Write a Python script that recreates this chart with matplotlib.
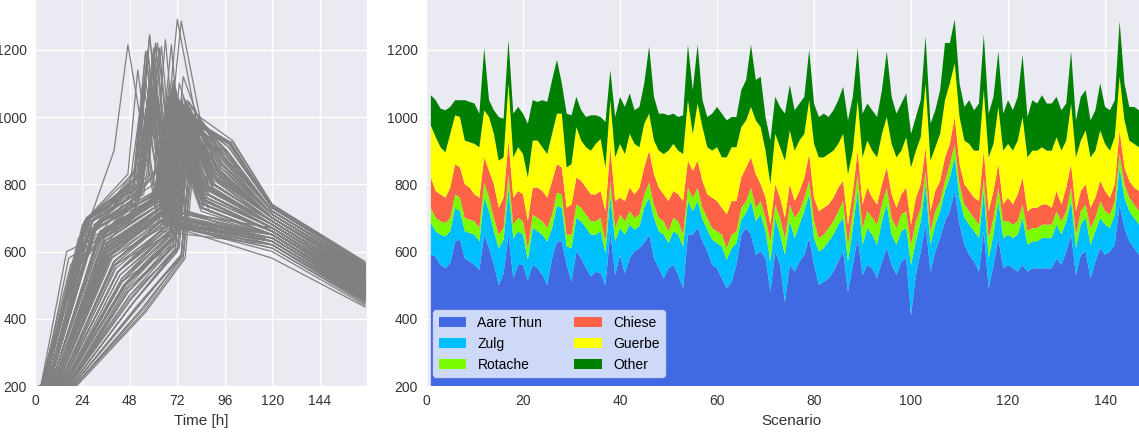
import matplotlib.pyplot as plt
import numpy as np

# --- stacked inflow per scenario (right panel) ---
scenario = np.arange(1, 151)

aare_thun = [590, 585, 560, 550, 565, 630, 635, 580, 570, 560,
             545, 650, 610, 560, 500, 535, 650, 520, 560, 560,
             515, 560, 550, 530, 500, 580, 630, 630, 560, 510,
             600, 580, 550, 525, 540, 535, 500, 660, 530, 590,
             535, 580, 600, 610, 625, 650, 580, 550, 520, 550,
             560, 530, 490, 650, 650, 670, 630, 600, 560, 550,
             520, 490, 510, 560, 650, 670, 650, 590, 600, 580,
             480, 600, 560, 450, 560, 540, 570, 590, 640, 560,
             500, 510, 520, 540, 570, 600, 480, 560, 640, 530,
             560, 550, 520, 570, 610, 560, 530, 570, 580, 410,
             530, 600, 680, 540, 600, 640, 690, 720, 780, 680,
             620, 590, 570, 540, 660, 490, 560, 640, 550, 560,
             550, 540, 560, 540, 550, 550, 550, 550, 550, 580,
             560, 600, 650, 530, 590, 600, 520, 570, 610, 590,
             600, 620, 740, 670, 630, 610, 590, 590, 600, 600]
zulg = [95, 75, 90, 95, 95, 100, 85, 80, 85, 90,
        85, 110, 110, 100, 110, 100, 135, 120, 100, 90,
        60, 110, 110, 120, 130, 90, 105, 100, 55, 100,
        100, 110, 120, 125, 110, 125, 95, 105, 100, 80,
        115, 100, 65, 65, 105, 110, 120, 110, 130, 75,
        100, 120, 125, 100, 70, 80, 65, 65, 75, 75,
        95, 85, 100, 65, 45, 45, 100, 100, 110, 80,
        90, 100, 90, 140, 130, 100, 110, 130, 130, 80,
        100, 100, 110, 110, 110, 100, 90, 110, 140, 90,
        110, 100, 100, 120, 130, 90, 90, 90, 90, 150,
        100, 90, 120, 80, 80, 80, 90, 100, 100, 80,
        80, 90, 90, 100, 120, 90, 90, 110, 90, 90,
        90, 110, 140, 80, 80, 80, 90, 90, 90, 100,
        90, 90, 100, 80, 90, 100, 100, 90, 90, 90,
        70, 90, 110, 90, 90, 90, 90, 80, 80, 90]
rotache = [45, 40, 40, 40, 40, 40, 40, 40, 40, 40,
           40, 45, 40, 40, 40, 35, 45, 40, 40, 40,
           35, 40, 40, 40, 40, 40, 40, 40, 35, 40,
           40, 40, 40, 40, 40, 40, 35, 45, 40, 40,
           40, 40, 35, 35, 40, 45, 40, 40, 40, 35,
           40, 40, 35, 40, 40, 40, 35, 35, 35, 35,
           35, 35, 40, 35, 35, 35, 40, 40, 40, 40,
           60, 40, 50, 50, 50, 60, 40, 40, 40, 50,
           40, 40, 40, 40, 40, 50, 50, 50, 50, 50,
           50, 50, 60, 50, 50, 50, 50, 50, 50, 60,
           60, 40, 40, 40, 40, 30, 30, 40, 40, 40,
           40, 40, 40, 40, 40, 60, 50, 40, 50, 40,
           40, 40, 40, 40, 40, 40, 40, 40, 40, 40,
           40, 30, 40, 40, 40, 40, 50, 40, 50, 40,
           40, 40, 40, 40, 40, 40, 40, 50, 40, 40]
chiese = [90, 80, 80, 75, 90, 90, 90, 100, 95, 80,
          90, 75, 80, 100, 80, 90, 100, 80, 80, 80,
          80, 80, 90, 90, 90, 100, 85, 80, 80, 90,
          80, 80, 80, 80, 80, 80, 90, 100, 80, 50,
          60, 70, 70, 80, 80, 95, 90, 90, 80, 90,
          80, 80, 100, 80, 80, 80, 80, 70, 90, 90,
          80, 100, 100, 90, 90, 100, 90, 100, 50, 60,
          50, 60, 60, 60, 60, 50, 60, 60, 80, 70,
          80, 80, 70, 70, 70, 60, 60, 60, 70, 70,
          70, 60, 60, 60, 60, 70, 60, 60, 70, 60,
          70, 70, 70, 60, 60, 60, 70, 60, 80, 60,
          60, 60, 60, 70, 80, 80, 80, 70, 50, 70,
          60, 80, 80, 60, 60, 60, 60, 60, 50, 60,
          50, 70, 70, 70, 60, 60, 60, 60, 60, 60,
          50, 50, 70, 50, 50, 50, 60, 50, 60, 60]
guerbe = [155, 160, 140, 135, 160, 145, 150, 130, 135, 150,
          150, 140, 160, 150, 140, 120, 170, 120, 130, 120,
          130, 140, 140, 130, 130, 140, 150, 160, 120, 120,
          150, 120, 120, 130, 150, 155, 130, 140, 130, 160,
          140, 160, 150, 120, 130, 110, 100, 110, 120, 150,
          140, 130, 140, 180, 110, 170, 160, 140, 140, 160,
          150, 170, 160, 160, 150, 140, 150, 160, 170, 140,
          120, 150, 150, 170, 160, 150, 150, 130, 160, 160,
          160, 150, 150, 140, 130, 140, 150, 120, 150, 140,
          140, 140, 140, 150, 150, 150, 150, 130, 150, 170,
          140, 140, 190, 150, 130, 140, 170, 180, 160, 140,
          130, 140, 140, 150, 180, 160, 140, 170, 160, 160,
          160, 160, 180, 160, 170, 170, 170, 160, 170, 160,
          160, 140, 180, 160, 150, 160, 150, 140, 150, 140,
          140, 140, 160, 140, 120, 130, 130, 140, 130, 130]
other = [90, 110, 115, 125, 80, 45, 50, 120, 120, 120,
         100, 185, 50, 70, 130, 115, 130, 130, 120, 120,
         160, 120, 115, 140, 155, 160, 160, 90, 160, 145,
         90, 90, 90, 105, 85, 65, 135, 90, 120, 140,
         140, 120, 100, 120, 120, 200, 130, 110, 120, 105,
         90, 100, 115, 165, 130, 175, 80, 90, 110, 120,
         130, 110, 90, 90, 110, 120, 185, 120, 150, 100,
         130, 110, 120, 140, 135, 120, 110, 110, 150, 120,
         120, 130, 110, 120, 130, 140, 160, 160, 155, 130,
         110, 120, 120, 130, 195, 140, 130, 140, 130, 100,
         100, 110, 140, 110, 110, 130, 170, 120, 130, 100,
         100, 130, 120, 140, 165, 130, 140, 165, 110, 130,
         120, 130, 185, 120, 150, 140, 155, 140, 140, 120,
         120, 110, 155, 110, 130, 120, 110, 120, 140, 110,
         120, 110, 165, 110, 100, 110, 110, 110, 110, 110]

labels = ['Aare Thun', 'Zulg', 'Rotache', 'Chiese', 'Guerbe', 'Other']
colors = ['royalblue', 'deepskyblue', 'lawngreen', 'tomato', 'yellow', 'green']

# --- hydrograph vertices per scenario (left panel) ---
t_start = [6, 9, 4, 12, 7, 5, 10, 14, 8, 3, 11, 6, 15, 9, 18, 7, 4, 13, 10, 16,
           20, 8, 5, 12, 17, 9, 6, 11, 19, 14, 7, 10, 13, 4, 16, 8, 21, 5, 12, 9,
           15, 6, 11, 8, 3, 5, 14, 10, 18, 12, 7, 13, 19, 4, 9, 6, 11, 15, 8, 17,
           10, 20, 12, 14, 6, 5, 3, 9, 13, 16, 18, 7, 11, 15, 8, 12, 10, 6, 4, 13,
           17, 9, 14, 11, 7, 5, 19, 10, 3, 12, 8, 15, 16, 6, 4, 10, 13, 9, 7, 20,
           14, 8, 4, 16, 11, 7, 5, 6, 3, 9, 12, 10, 15, 13, 5, 18, 8, 4, 14, 11,
           16, 9, 6, 17, 12, 10, 8, 13, 15, 7, 11, 9, 5, 19, 8, 6, 14, 12, 7, 10,
           13, 9, 3, 6, 11, 15, 10, 8, 12, 14]
t_shoulder = [28, 34, 17, 40, 30, 24, 36, 46, 32, 16, 38, 29, 44, 35, 50, 31, 22, 42, 37, 48,
              54, 33, 26, 40, 47, 36, 28, 39, 52, 43, 30, 37, 41, 20, 46, 33, 56, 25, 40, 35,
              45, 29, 38, 33, 18, 27, 44, 36, 50, 40, 31, 42, 52, 22, 35, 28, 39, 45, 33, 48,
              37, 55, 41, 44, 30, 26, 19, 35, 42, 47, 50, 31, 38, 46, 34, 40, 37, 29, 24, 42,
              48, 35, 44, 38, 31, 27, 53, 36, 21, 40, 33, 45, 47, 29, 23, 36, 42, 35, 31, 55,
              44, 34, 25, 47, 38, 31, 27, 29, 20, 35, 40, 36, 45, 42, 26, 50, 33, 24, 44, 38,
              47, 35, 29, 49, 40, 36, 33, 42, 45, 31, 38, 35, 26, 52, 33, 29, 44, 40, 31, 37,
              42, 35, 22, 29, 38, 45, 37, 33, 40, 43]
v_shoulder = [640, 620, 580, 560, 660, 680, 600, 500, 650, 600, 580, 690, 510, 610, 450, 670, 640, 540, 590, 470,
              430, 650, 690, 570, 480, 620, 700, 590, 440, 530, 680, 600, 560, 590, 490, 660, 420, 690, 570, 630,
              500, 690, 600, 650, 560, 700, 510, 610, 450, 560, 670, 540, 440, 600, 620, 690, 580, 500, 650, 460,
              600, 430, 550, 520, 680, 700, 550, 630, 540, 480, 450, 680, 590, 500, 640, 570, 610, 690, 620, 540,
              470, 630, 510, 590, 680, 700, 440, 620, 560, 570, 660, 500, 480, 690, 610, 600, 540, 630, 670, 420,
              520, 650, 690, 490, 590, 680, 700, 690, 540, 640, 570, 620, 500, 540, 690, 450, 660, 620, 520, 590,
              480, 630, 690, 460, 570, 610, 660, 540, 500, 680, 590, 640, 700, 440, 650, 690, 510, 570, 680, 600,
              540, 640, 560, 690, 590, 500, 610, 660, 570, 530]
t_rise = [64, 66, 50, 68, 62, 52, 66, 71, 63, 48, 67, 57, 70, 64, 72, 60, 60, 68, 66, 73,
          74, 63, 52, 67, 71, 52, 57, 66, 75, 69, 54, 64, 68, 50, 70, 61, 76, 47, 66, 63,
          69, 53, 65, 62, 48, 58, 68, 64, 72, 66, 61, 67, 74, 40, 63, 63, 65, 70, 62, 72,
          64, 75, 67, 69, 54, 50, 53, 63, 68, 71, 72, 55, 65, 70, 63, 66, 64, 54, 50, 67,
          71, 63, 68, 65, 61, 52, 74, 64, 52, 66, 62, 69, 70, 53, 50, 64, 67, 63, 61, 75,
          68, 63, 52, 71, 65, 62, 54, 55, 65, 63, 66, 64, 69, 67, 51, 72, 63, 50, 68, 65,
          70, 63, 53, 71, 66, 64, 62, 67, 69, 61, 65, 63, 50, 74, 62, 54, 68, 66, 61, 64,
          67, 63, 67, 54, 65, 69, 64, 63, 66, 68]
v_rise = [760, 720, 700, 650, 780, 820, 700, 640, 750, 690, 680, 860, 620, 730, 600, 770, 800, 660, 720, 610,
          580, 750, 790, 690, 620, 740, 810, 700, 590, 660, 790, 710, 680, 840, 640, 760, 580, 830, 700, 740,
          640, 780, 720, 770, 800, 880, 650, 730, 600, 690, 760, 680, 590, 900, 730, 850, 700, 640, 760, 610,
          720, 590, 680, 650, 770, 800, 760, 740, 670, 620, 610, 770, 710, 640, 750, 700, 720, 780, 800, 680,
          620, 740, 650, 710, 780, 820, 590, 730, 800, 700, 760, 640, 620, 790, 830, 720, 680, 740, 770, 580,
          660, 750, 820, 620, 710, 770, 800, 840, 860, 760, 700, 730, 640, 670, 800, 610, 760, 810, 660, 720,
          630, 740, 780, 610, 700, 730, 760, 680, 640, 780, 710, 740, 810, 590, 760, 780, 650, 700, 770, 730,
          680, 740, 880, 780, 720, 650, 730, 750, 690, 660]
t_peak = [70, 72, 56, 75, 68, 58, 73, 77, 69, 54, 74, 63, 76, 71, 78, 67, 66, 75, 72, 79,
          80, 70, 59, 74, 78, 58, 62, 73, 81, 76, 60, 71, 74, 57, 77, 68, 82, 52, 73, 70,
          76, 60, 72, 69, 55, 64, 75, 71, 79, 73, 68, 74, 80, 47, 70, 69, 72, 77, 69, 79,
          71, 81, 74, 76, 61, 56, 61, 70, 75, 78, 79, 62, 72, 77, 70, 73, 71, 60, 57, 74,
          78, 70, 75, 72, 68, 58, 80, 71, 60, 73, 69, 76, 77, 60, 56, 71, 74, 70, 68, 81,
          75, 70, 58, 78, 72, 69, 61, 62, 72, 70, 73, 71, 76, 74, 58, 79, 70, 57, 75, 72,
          77, 70, 60, 78, 73, 71, 69, 74, 76, 68, 72, 70, 56, 80, 69, 61, 75, 73, 68, 71,
          74, 70, 74, 60, 72, 76, 71, 70, 73, 75]
t_fall = [84, 88, 66, 92, 86, 68, 90, 96, 85, 64, 91, 71, 94, 87, 98, 84, 74, 93, 89, 97,
          99, 86, 68, 92, 95, 67, 70, 90, 100, 94, 69, 88, 91, 66, 96, 84, 99, 62, 90, 86,
          94, 69, 89, 85, 65, 72, 93, 87, 97, 90, 84, 91, 98, 62, 86, 76, 88, 95, 85, 96,
          87, 99, 92, 94, 70, 66, 69, 86, 93, 96, 97, 71, 88, 95, 86, 90, 87, 70, 67, 92,
          96, 86, 93, 88, 84, 68, 99, 87, 66, 90, 85, 94, 95, 69, 66, 87, 91, 86, 84, 100,
          92, 86, 68, 96, 88, 85, 70, 71, 88, 86, 90, 87, 94, 91, 67, 97, 86, 66, 93, 88,
          95, 86, 69, 96, 90, 87, 85, 91, 94, 84, 88, 86, 65, 98, 85, 70, 93, 90, 84, 87,
          91, 86, 90, 69, 88, 94, 87, 86, 90, 92]
v_fall = [760, 720, 690, 830, 740, 700, 780, 880, 730, 660, 800, 700, 860, 760, 910, 720, 700, 820, 780, 900,
          920, 740, 680, 810, 880, 720, 690, 790, 930, 840, 700, 770, 820, 680, 870, 730, 925, 690, 790, 750,
          850, 710, 780, 740, 680, 700, 830, 770, 890, 800, 730, 810, 910, 690, 760, 720, 780, 860, 740, 900,
          770, 920, 810, 840, 720, 690, 680, 750, 830, 880, 900, 730, 790, 860, 750, 800, 770, 700, 690, 820,
          890, 750, 840, 780, 730, 680, 915, 770, 680, 800, 740, 850, 870, 720, 690, 770, 820, 750, 730, 925,
          830, 750, 700, 880, 790, 740, 690, 720, 790, 750, 800, 770, 850, 820, 690, 900, 750, 680, 840, 780,
          870, 750, 700, 890, 800, 770, 740, 820, 860, 730, 790, 750, 680, 920, 740, 700, 840, 800, 730, 770,
          820, 750, 800, 710, 790, 850, 770, 750, 800, 840]
tail_hours = [120, 167]
v_120 = [660, 650, 630, 700, 660, 640, 680, 720, 650, 620, 690, 640, 710, 670, 730, 650, 630, 700, 680, 720,
         735, 660, 640, 690, 720, 670, 630, 680, 740, 700, 640, 670, 700, 620, 710, 650, 730, 630, 680, 660,
         710, 640, 680, 660, 610, 620, 700, 670, 720, 690, 650, 690, 730, 600, 670, 630, 680, 710, 660, 720,
         670, 735, 690, 700, 650, 640, 610, 660, 700, 720, 720, 650, 680, 710, 660, 690, 670, 650, 630, 700,
         720, 660, 700, 680, 650, 630, 730, 670, 580, 690, 660, 700, 710, 650, 620, 680, 700, 660, 650, 740,
         700, 660, 640, 720, 680, 660, 650, 670, 690, 660, 690, 670, 710, 700, 640, 720, 660, 620, 700, 680,
         710, 660, 650, 720, 690, 670, 660, 700, 710, 650, 680, 660, 620, 730, 660, 650, 700, 690, 650, 670,
         700, 660, 690, 650, 680, 710, 670, 660, 690, 700]
v_167 = [500, 480, 460, 530, 495, 470, 510, 550, 485, 450, 520, 475, 545, 500, 560, 480, 465, 535, 505, 555,
         565, 490, 470, 525, 550, 495, 460, 515, 570, 540, 470, 500, 530, 455, 545, 480, 560, 465, 510, 490,
         540, 475, 505, 485, 445, 460, 530, 500, 555, 515, 480, 520, 560, 440, 500, 465, 510, 545, 485, 555,
         505, 565, 520, 535, 475, 470, 450, 490, 530, 550, 555, 480, 510, 540, 490, 515, 500, 475, 460, 525,
         550, 490, 535, 505, 480, 465, 560, 500, 435, 520, 485, 540, 545, 475, 455, 505, 530, 490, 480, 565,
         535, 495, 470, 550, 510, 490, 475, 500, 520, 495, 515, 500, 545, 530, 465, 555, 490, 455, 535, 510,
         545, 495, 480, 555, 515, 500, 490, 530, 545, 475, 505, 495, 460, 560, 490, 475, 535, 515, 480, 500,
         525, 495, 520, 480, 510, 540, 500, 490, 515, 530]

plt.rcParams['font.family'] = ['Liberation Sans', 'DejaVu Sans']
plt.rcParams['axes.facecolor'] = '#EAEAF2'
plt.rcParams['axes.edgecolor'] = 'white'
plt.rcParams['grid.color'] = 'white'
plt.rcParams['grid.linewidth'] = 1.0
plt.rcParams['xtick.color'] = '#333333'
plt.rcParams['ytick.color'] = '#333333'
plt.rcParams['axes.labelcolor'] = '#333333'

fig = plt.figure(figsize=(11.39, 4.34), dpi=100)
ax1 = fig.add_axes([35 / 1139, 48 / 434, 332 / 1139, 386 / 434])
ax2 = fig.add_axes([426 / 1139, 48 / 434, 730 / 1139, 386 / 434])

layers = [aare_thun, zulg, rotache, chiese, guerbe, other]
total = np.sum(np.array(layers), axis=0)

for i in range(len(scenario)):
    tt = [2, t_start[i], t_shoulder[i], t_rise[i], t_peak[i], t_fall[i]] + tail_hours
    vv = [200, 200, v_shoulder[i], v_rise[i], total[i], v_fall[i], v_120[i], v_167[i]]
    ax1.plot(tt, vv, c='gray', lw=0.9)

ax1.set_xlim(0, 168)
ax1.set_ylim(200, 1348)
ax1.set_xticks([0, 24, 48, 72, 96, 120, 144])
ax1.set_yticks([200, 400, 600, 800, 1000, 1200])
ax1.set_xlabel('Time [h]', fontsize=11)

ax2.stackplot(scenario, *layers, labels=labels, colors=colors, linewidth=0)
ax2.set_xlim(0, 150.5)
ax2.set_ylim(200, 1348)
ax2.set_xticks([0, 20, 40, 60, 80, 100, 120, 140])
ax2.set_yticks([200, 400, 600, 800, 1000, 1200])
ax2.set_xlabel('Scenario', fontsize=11)
leg = ax2.legend(loc='lower left', ncol=2, fontsize=10, frameon=True,
                 bbox_to_anchor=(0.0, 0.005), borderaxespad=0.5, columnspacing=2.3)
leg.get_frame().set_facecolor('white')
leg.get_frame().set_alpha(0.75)
leg.get_frame().set_edgecolor('#dcdff5')

for ax in (ax1, ax2):
    ax.grid(True)
    ax.set_axisbelow(True)
    ax.tick_params(length=0, labelsize=10, pad=6)
    for s in ax.spines.values():
        s.set_visible(False)

plt.savefig('out.png', dpi=100)
